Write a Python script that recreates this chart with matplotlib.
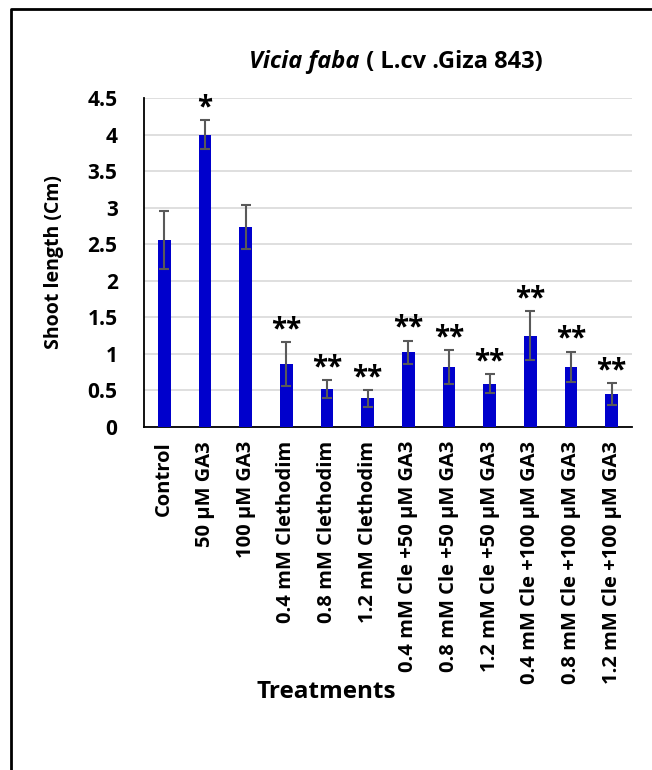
import numpy as np
import matplotlib.pyplot as plt
from matplotlib.lines import Line2D

treatments = ['Control', '50 µM GA3', '100 µM GA3', '0.4 mM Clethodim',
              '0.8 mM Clethodim', '1.2 mM Clethodim', '0.4 mM Cle +50 µM GA3',
              '0.8 mM Cle +50 µM GA3', '1.2 mM Cle +50 µM GA3',
              '0.4 mM Cle +100 µM GA3', '0.8 mM Cle +100 µM GA3',
              '1.2 mM Cle +100 µM GA3']
shoot_length = [2.56, 4.0, 2.73, 0.86, 0.52, 0.39, 1.02, 0.82, 0.59, 1.25, 0.82, 0.45]
err = [0.40, 0.20, 0.30, 0.30, 0.12, 0.11, 0.16, 0.23, 0.13, 0.33, 0.21, 0.15]
signif = ['', '*', '', '**', '**', '**', '**', '**', '**', '**', '**', '**']

plt.rcParams['font.family'] = ['Open Sans', 'DejaVu Sans']
plt.rcParams['font.weight'] = 'bold'

fig = plt.figure(figsize=(6.52, 7.7), dpi=100)
ax = fig.add_axes([144 / 652, 1 - 427 / 770, 488 / 652, 329 / 770])

x = np.arange(len(treatments))
ax.bar(x, shoot_length, width=0.31, color='#0000cc', zorder=3)
ax.errorbar(x, shoot_length, yerr=err, fmt='none', ecolor='#595959',
            elinewidth=1.5, capsize=3.5, capthick=1.5, zorder=4)
for xi, v, e, s in zip(x, shoot_length, err, signif):
    if s:
        ax.annotate(s, (xi, v + e), xytext=(0, -1.5),
                    textcoords='offset points', ha='center', va='bottom',
                    fontsize=20, fontweight='bold')

ax.set_ylim(0, 4.5)
ax.set_xlim(-0.5, len(treatments) - 0.5)
ax.set_yticks(np.arange(0, 4.51, 0.5))
ax.set_yticklabels(['0', '0.5', '1', '1.5', '2', '2.5', '3', '3.5', '4', '4.5'],
                   fontsize=15, fontweight='bold')
ax.set_xticks(x)
ax.set_xticklabels(treatments, rotation=90, fontsize=14.5, fontweight='bold')
ax.tick_params(axis='x', length=0, pad=10)
ax.tick_params(axis='y', length=0, pad=19)
ax.grid(axis='y', color='#d9d9d9', linewidth=1.2, zorder=0)
for sp in ['top', 'right']:
    ax.spines[sp].set_visible(False)
ax.spines['left'].set_linewidth(1.3)
ax.spines['bottom'].set_linewidth(1.3)

ax.set_ylabel('Shoot length (Cm)', fontsize=14, fontweight='bold', labelpad=17)
fig.text(0.5, 0.101, 'Treatments', ha='center', va='center', fontsize=17.5, fontweight='bold')

# title with italic species name
t1 = fig.text(0.38, 0.919, 'Vicia faba', fontsize=17, fontweight='bold', style='italic',
              ha='left', va='center')
t2 = ax.annotate(' ( L.cv .Giza 843)', xy=(1, 0), xycoords=t1, fontsize=17,
                 fontweight='bold', ha='left', va='bottom', annotation_clip=False)
fig.canvas.draw()
r = fig.canvas.get_renderer()
b1 = t1.get_window_extent(r)
b2 = t2.get_window_extent(r)
total = b2.x1 - b1.x0
center = 0.607 * fig.bbox.width
t1.set_x((center - total / 2) / fig.bbox.width)

# chart-area border (only top and left visible)
fig.add_artist(Line2D([11 / 652, 11 / 652, 1], [0, 1 - 9 / 770, 1 - 9 / 770],
                      transform=fig.transFigure, color='black', linewidth=2))

fig.savefig('out.png', dpi=100)
